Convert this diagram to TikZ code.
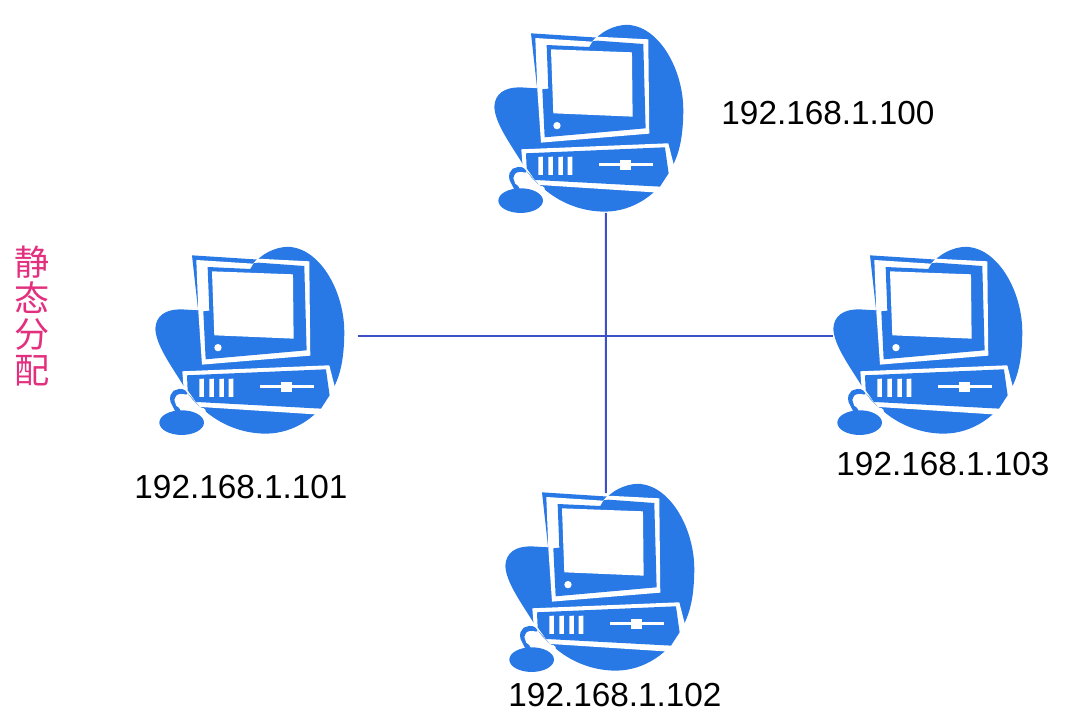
\documentclass[tikz,border=0pt]{standalone}
\usepackage{fontspec}
\setmainfont{Liberation Sans}
\newfontfamily\cjkfont{Noto Sans CJK SC}
\definecolor{pcblue}{HTML}{2878E6}
\definecolor{linkblue}{HTML}{3C50C8}
\definecolor{notepink}{HTML}{E2307F}
\tikzset{
	addr/.style={font=\fontsize{23.7}{28}\selectfont, text=black, inner sep=0pt},
	note/.style={font=\cjkfont\fontsize{25}{25.6}\selectfont, text=notepink, align=center, inner sep=0pt},
	link/.style={draw=linkblue, line width=1.4pt},
	computer/.pic={
		\begin{scope}[x=0.00833cm,y=-0.00833cm]
		% body blob
		\fill [pcblue] (345,88) .. controls (375,55) and (420,42) .. (450,45)
			.. controls (540,55) and (610,180) .. (610,300)
			.. controls (610,400) and (590,450) .. (570,480)
			.. controls (540,550) and (460,605) .. (375,605)
			.. controls (300,605) and (235,575) .. (190,535)
			.. controls (165,515) and (140,490) .. (130,465)
			.. controls (90,400) and (45,340) .. (43,290)
			.. controls (45,250) and (75,232) .. (120,232) -- (170,235) -- cycle;
		% monitor
		\fill [pcblue] (153,70)--(355,83)--(300,200)--(172,240)--cycle;
		\fill [white] (166,84)--(336,95)--(350,80)--(505,88)--(508,371)--(183,398)--(172,238)--cycle;
		\fill [pcblue] (200,105)--(328,111)--(338,94)--(352,92)--(490,102)--(497,355)--(194,382)--(187,238)--(205,236)--cycle;
		\fill [white] (213,118)--(456,127)--(458,320)--(220,310)--cycle;
		\fill [white] (231,347) circle (11);
		% mouse
		\draw [pcblue, line width=3.6pt, line cap=round] (132,482) .. controls (108,472) and (90,485) .. (96,508) -- (112,540);
		\draw [white, line width=4.6pt, line cap=round] (140,500) .. controls (118,490) and (104,500) .. (114,515) .. controls (124,528) and (150,530) .. (185,538);
		\fill [pcblue] (122,572) ellipse (67 and 37);
		% case
		\fill [white] (124,418)--(565,400)--(585,478)--(535,548)--(178,525)--(128,470)--cycle;
		\fill [pcblue] (138,430)--(555,412)--(566,490)--(540,530)--(165,510)--(140,475)--cycle;
		\foreach \bx in {175,205,235,263}
			\fill [white] (\bx,441)--(\bx+14,440)--(\bx+14,495)--(\bx,495)--cycle;
		\fill [white] (357,459) rectangle (518,469);
		\fill [white] (421,449) rectangle (452,481);
		% ports
		\coordinate (-n) at (345,72);
		\coordinate (-s) at (378,609);
		\coordinate (-e) at (651,312);
		\coordinate (-w) at (42,312);
		\end{scope}
	}
}
\begin{document}
\begin{tikzpicture}
	\useasboundingbox (0,0) rectangle (27.15,-17.8);

	\pic (pcTop) at (12,-0.25) {computer};
	\pic (pcLeft) at (3.525,-5.8) {computer};
	\pic (pcRight) at (20.475,-5.8) {computer};
	\pic (pcBottom) at (12.275,-11.725) {computer};

	\draw [link] (pcTop-s) -- (pcBottom-n);
	\draw [link] (pcLeft-e) -- (pcRight-w);

	\node [addr] (addrTop) at (20.7,-2.825) {192.168.1.100};
	\node [addr] (addrLeft) at (6.025,-12.175) {192.168.1.101};
	\node [addr] (addrBottom) at (15.375,-17.375) {192.168.1.102};
	\node [addr] (addrRight) at (23.575,-11.6) {192.168.1.103};

	\node [note] (noteStatic) at (0.8,-7.9) {静\\态\\分\\配};
\end{tikzpicture}
\end{document}
